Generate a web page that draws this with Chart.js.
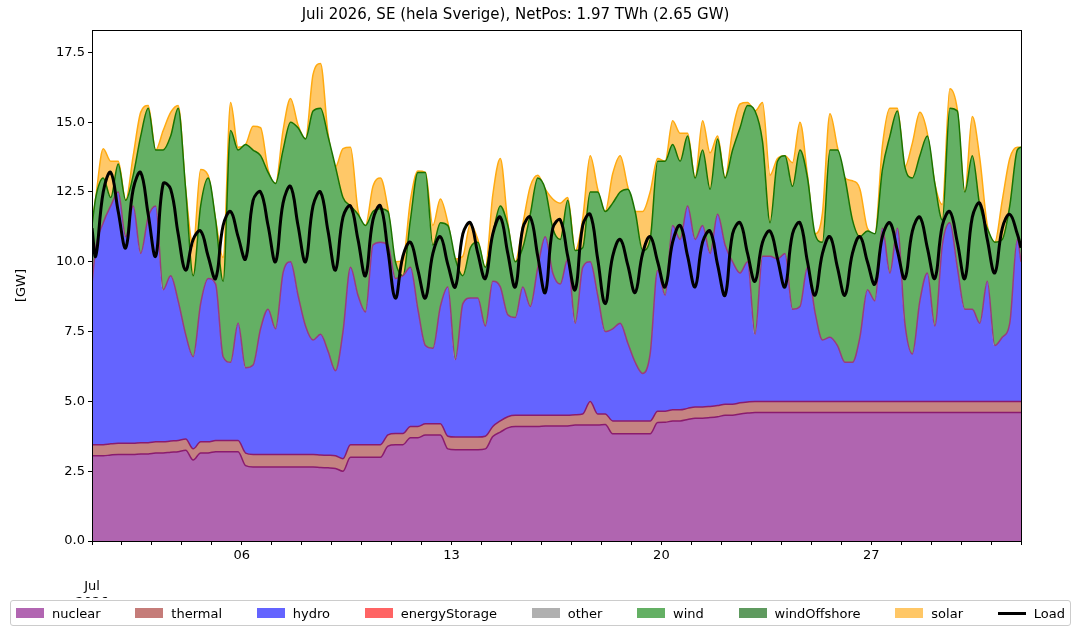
<!DOCTYPE html>
<html>
<head>
<meta charset="utf-8">
<script src="https://cdn.jsdelivr.net/npm/chart.js"></script>
<style>
  body { margin: 0; background: #fff; font-family: 'DejaVu Sans', sans-serif; }
  #wrap { position: relative; width: 1081px; height: 635px; }
  #legend { position: absolute; left: 10px; top: 600px; width: 1049px; height: 24px;
            border: 1px solid #ccc; border-radius: 3px; background: rgba(255,255,255,0.85);
            display: flex; justify-content: space-between; align-items: center;
            padding: 0 5px; font-size: 13px; }
  #legend span.item { display: flex; align-items: center; }
  #legend i { display: inline-block; width: 28px; height: 10px; margin-right: 8px; }
  #legend i.line { height: 3px; }
</style>
</head>
<body>
<div id="wrap"><canvas id="c" width="1081" height="635"></canvas><div id="legend"></div></div>
<script>
// Juli 2026, SE — levels read off the picture (GW), sampled at 03, 09, 15, 21 h each day
// plus the first and last instants of the month.
const nuclearLevel = [3.05,
  3.05,3.05,3.08,3.1, 3.1,3.1,3.12,3.12, 3.15,3.15,3.18,3.2, 3.25,2.9,3.15,3.15, 3.2,3.2,3.2,3.2,
  2.7,2.65,2.65,2.65, 2.65,2.65,2.65,2.65, 2.65,2.65,2.63,2.62, 2.6,2.5,3.0,3.0, 3.0,3.0,3.0,3.4,
  3.45,3.45,3.7,3.7, 3.8,3.8,3.8,3.3, 3.27,3.27,3.27,3.27, 3.3,3.74,3.9,4.05, 4.1,4.1,4.1,4.1,
  4.12,4.12,4.12,4.12, 4.15,4.15,4.15,4.15, 4.17,3.84,3.84,3.84, 3.84,3.84,3.84,4.24, 4.25,4.3,4.3,4.35,
  4.4,4.4,4.42,4.45, 4.5,4.5,4.55,4.58, 4.6,4.6,4.6,4.6, 4.6,4.6,4.6,4.6, 4.6,4.6,4.6,4.6,
  4.6,4.6,4.6,4.6, 4.6,4.6,4.6,4.6, 4.6,4.6,4.6,4.6, 4.6,4.6,4.6,4.6, 4.6,4.6,4.6,4.6,
  4.6,4.6,4.6,4.6, 4.6];
const thermalLevel = [3.45,
  3.45,3.45,3.48,3.5, 3.5,3.5,3.52,3.52, 3.55,3.55,3.58,3.6, 3.65,3.3,3.55,3.55, 3.6,3.6,3.6,3.6,
  3.15,3.1,3.1,3.1, 3.1,3.1,3.1,3.1, 3.1,3.1,3.08,3.07, 3.05,2.95,3.45,3.45, 3.45,3.45,3.45,3.8,
  3.85,3.85,4.1,4.1, 4.2,4.2,4.2,3.75, 3.72,3.72,3.72,3.72, 3.75,4.1,4.3,4.45, 4.5,4.5,4.5,4.5,
  4.5,4.5,4.5,4.5, 4.52,4.55,5.0,4.55, 4.55,4.3,4.3,4.3, 4.3,4.3,4.3,4.65, 4.65,4.7,4.7,4.75,
  4.8,4.8,4.82,4.85, 4.9,4.9,4.95,4.98, 5.0,5.0,5.0,5.0, 5.0,5.0,5.0,5.0, 5.0,5.0,5.0,5.0,
  5.0,5.0,5.0,5.0, 5.0,5.0,5.0,5.0, 5.0,5.0,5.0,5.0, 5.0,5.0,5.0,5.0, 5.0,5.0,5.0,5.0,
  5.0,5.0,5.0,5.0, 5.0];
const hydroLevel = [9.2,
  10.5,11.4,12.0,12.5, 10.9,12.0,10.3,11.6, 12.0,9.0,9.5,8.6, 7.4,6.6,8.5,9.4, 9.2,6.6,6.4,7.8,
  6.2,6.3,7.6,8.3, 7.6,9.6,10.0,8.8, 7.7,7.2,7.4,6.8, 6.1,7.5,9.8,8.8, 8.2,10.6,10.7,10.6,
  9.4,9.5,9.8,8.3, 7.0,6.9,8.4,9.1, 6.5,8.5,8.7,8.7, 7.7,9.3,9.1,8.1, 8.0,9.1,8.4,9.8,
  10.9,9.6,9.2,10.1, 7.8,9.8,10.0,8.8, 7.5,7.6,7.8,7.1, 6.4,6.0,6.7,9.7, 8.8,11.3,10.8,12.0,
  10.8,11.3,10.3,11.7, 10.6,10.0,9.6,10.0, 7.4,10.2,10.2,10.1, 10.3,8.3,8.4,9.8, 8.2,7.2,7.3,7.0,
  6.4,6.4,7.3,9.0, 8.6,11.2,9.6,11.2, 7.8,6.7,8.6,9.6, 7.7,10.6,11.4,9.8, 8.3,8.3,7.8,9.3,
  7.0,7.3,7.8,10.8, 10.0];
const windLevel = [11.3,
  12.3,13.0,12.3,13.5, 12.2,13.1,14.5,15.5, 14.0,14.0,14.5,15.5, 12.6,9.5,12.0,13.0, 11.5,9.3,14.7,14.0,
  14.2,14.0,13.8,13.2, 12.8,14.0,15.0,14.8, 14.4,15.4,15.5,14.5, 13.4,12.3,12.0,11.7, 11.3,11.8,11.9,11.8,
  10.0,9.5,11.5,13.2, 13.2,10.6,11.4,11.3, 10.1,9.5,10.5,10.7, 9.8,11.0,12.0,11.3, 10.0,10.5,11.7,13.0,
  12.6,11.2,10.8,12.2, 10.4,10.5,12.5,12.5, 11.8,12.1,12.5,12.6, 11.8,10.4,10.8,13.6, 13.6,14.2,13.6,14.5,
  13.0,14.0,12.6,14.4, 13.0,14.0,14.8,15.6, 15.4,14.3,11.4,13.6, 13.8,12.7,14.0,13.0, 11.0,10.7,14.0,14.0,
  13.0,11.5,10.9,11.1, 11.0,13.3,14.5,15.4, 13.4,13.0,13.8,14.5, 12.8,11.5,15.5,15.4, 12.5,13.8,12.0,11.2,
  10.7,10.8,12.0,14.0, 14.1];
// solar output (GW) on top of wind
const solar = [0,
  0,1.05,1.3,0.1, 0,0.7,0.85,0.1, 0,0.7,0.85,0.1, 0,1.05,1.3,0.1, 0,0.85,1.0,0.1,
  0,0.85,1.0,0.1, 0,0.7,0.85,0.1, 0,1.3,1.6,0.1, 0,1.75,2.1,0.15, 0,0.9,1.1,0.1,
  0,0.55,0.7,0.05, 0,0.7,0.85,0.1, 0,0.7,0.85,0.1, 0,1.4,1.7,0.1, 0,0.85,1.0,0.1,
  0,1.05,1.3,0.1, 0,1.05,1.3,0.1, 0,1.05,1.3,0.1, 0,1.4,1.7,0.1, 0,0.85,1.0,0.1,
  0,1.05,1.3,0.1, 0,0.7,0.85,0.1, 0,1.4,1.7,0.1, 0,0.85,1.0,0.1, 0,1.05,1.3,0.1,
  0,1.4,1.7,0.1, 0,0.85,1.0,0.1, 0,1.25,1.55,0.1, 0,0.55,0.7,0.05, 0,1.4,1.7,0.1,
  0,1.4,1.7,0.1, 0];
const load = [11.2,
  10.2,12.5,13.2,11.8, 10.5,12.6,13.2,11.7, 10.2,12.8,12.6,11.0, 9.7,10.8,11.1,10.2, 9.4,11.3,11.8,10.9,
  10.1,12.2,12.5,11.3, 10.0,12.1,12.7,11.3, 10.0,12.0,12.5,11.1, 9.7,11.6,12.0,10.8, 9.5,11.5,12.0,10.4,
  8.7,10.2,10.7,9.7, 8.7,10.3,10.9,9.9, 9.1,11.0,11.4,10.3, 9.4,11.0,11.6,10.3, 9.1,11.2,11.6,10.2,
  8.9,11.2,11.5,10.2, 9.0,11.3,11.7,10.1, 8.5,10.2,10.8,9.9, 8.9,10.3,10.9,10.0, 9.1,10.7,11.3,10.2,
  9.1,10.7,11.1,9.9, 8.8,11.0,11.4,10.3, 9.3,10.7,11.1,10.1, 9.1,11.0,11.4,10.0, 8.8,10.3,10.9,9.8,
  8.8,10.3,10.9,10.0, 9.2,10.9,11.4,10.4, 9.4,11.1,11.6,10.5, 9.4,11.3,11.8,10.7, 9.4,11.6,12.1,10.8,
  9.6,11.2,11.7,11.0, 10.5];
const sampleHours = [3, 9, 15, 21];
const dayTicks = {5: '06', 12: '13', 19: '20', 26: '27'};
const yTicks = [0, 2.5, 5, 7.5, 10, 12.5, 15, 17.5];

// x positions in days since 1 July
const times = [0];
for (let d = 0; d < 31; d++) sampleHours.forEach(h => times.push(d + h / 24));
times.push(31);

const pts = arr => arr.map((v, i) => ({x: times[i], y: v}));
const solarLevel = windLevel.map((w, i) => w + solar[i]);

function area(label, data, fill, bg, line) {
  return {label, data: pts(data), fill, backgroundColor: bg, borderColor: line,
          borderWidth: 1.5, pointRadius: 0, tension: 0.3, cubicInterpolationMode: 'monotone', order: 2};
}

const datasets = [
  area('nuclear', nuclearLevel, 'origin', 'rgba(150,50,150,0.75)', '#8a1b6e'),
  area('thermal', thermalLevel, '-1', 'rgba(178,90,88,0.75)', '#8a1b6e'),
  area('hydro', hydroLevel, '-1', '#6464ff', '#9a3c7c'),
  {label: 'energyStorage', data: [], backgroundColor: '#ff6464', borderColor: '#ff6464', order: 2},
  {label: 'other', data: [], backgroundColor: '#b0b0b0', borderColor: '#b0b0b0', order: 2},
  area('wind', windLevel, 2, '#64b064', '#1a7300'),
  {label: 'windOffshore', data: [], backgroundColor: '#5f9a5f', borderColor: '#5f9a5f', order: 2},
  area('solar', solarLevel, 5, 'rgba(255,176,40,0.7)', '#ffaa10'),
  {label: 'Load', data: pts(load), fill: false, borderColor: '#000', backgroundColor: '#000',
   borderWidth: 3, pointRadius: 0, tension: 0.4, order: 1}
];

// legend in html
const legendSwatch = {nuclear: '#b266b2', thermal: '#c57c79', hydro: '#6464ff', energyStorage: '#ff6464',
  other: '#b0b0b0', wind: '#64b064', windOffshore: '#5f9a5f', solar: '#ffc766', Load: '#000'};
document.getElementById('legend').innerHTML = datasets.map(d =>
  `<span class="item"><i class="${d.label === 'Load' ? 'line' : ''}" style="background:${legendSwatch[d.label]}"></i>${d.label}</span>`
).join('');

const frame = {
  id: 'frame',
  afterDraw(chart) {
    const {ctx, chartArea: a} = chart;
    ctx.save();
    ctx.strokeStyle = '#000'; ctx.lineWidth = 1;
    ctx.strokeRect(a.left + 0.5, a.top + 0.5, a.right - a.left, a.bottom - a.top);
    ctx.restore();
  }
};

Chart.defaults.font.family = 'DejaVu Sans';
Chart.defaults.color = '#000';

new Chart(document.getElementById('c'), {
  type: 'line',
  data: {datasets},
  options: {
    responsive: false,
    animation: false,
    layout: {padding: {left: 10, right: 60, bottom: 37}},
    plugins: {
      title: {display: true, text: 'Juli 2026, SE (hela Sverige), NetPos: 1.97 TWh (2.65 GW)',
              font: {size: 15, weight: 'normal'}, padding: {top: 6, bottom: 6}},
      legend: {display: false},
      tooltip: {enabled: false}
    },
    scales: {
      x: {type: 'linear', min: 0, max: 31,
          grid: {drawOnChartArea: false, tickLength: 4, color: '#000'},
          border: {color: '#000'},
          afterBuildTicks(s) { s.ticks = Array.from({length: 32}, (_, i) => ({value: i})); },
          afterFit(s) { s.height = 57; },
          ticks: {autoSkip: false, maxRotation: 0, font: {size: 13},
                  callback(v) { return v === 0 ? ['', '', 'Jul', '2026'] : (dayTicks[v] || ''); }}},
      y: {min: 0, max: 18.3,
          grid: {drawOnChartArea: false, tickLength: 4, color: '#000'},
          border: {color: '#000'},
          afterBuildTicks(s) { s.ticks = yTicks.map(v => ({value: v})); },
          afterFit(s) { s.width = 82; },
          title: {display: true, text: '[GW]', font: {size: 13}},
          ticks: {font: {size: 13}, callback: v => v.toFixed(1)}}
    }
  },
  plugins: [frame]
});
</script>
</body>
</html>
